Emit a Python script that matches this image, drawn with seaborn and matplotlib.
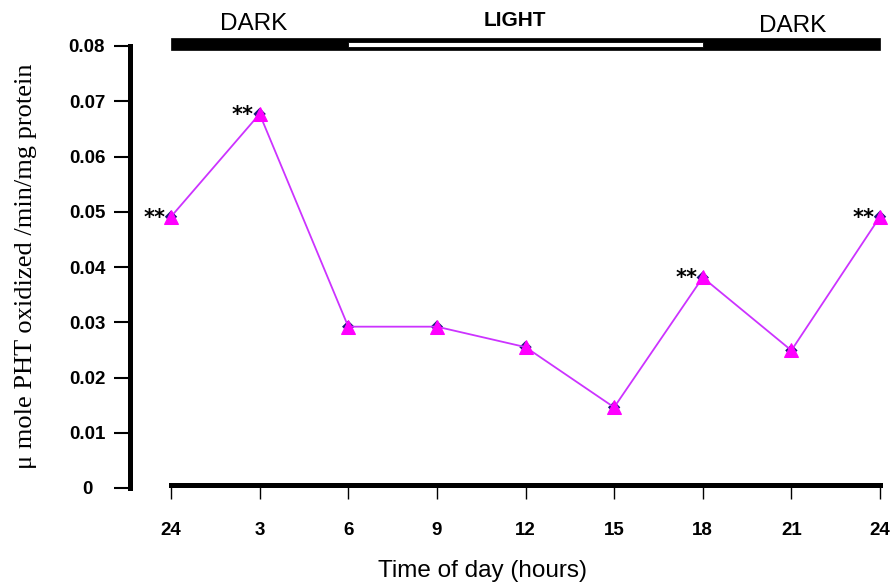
import numpy as np
import pandas as pd
import matplotlib
matplotlib.use("Agg")
import matplotlib.pyplot as plt
import seaborn as sns
from matplotlib.patches import Rectangle

# data
hours = [0, 3, 6, 9, 12, 15, 18, 21, 24]
hour_labels = ["24", "3", "6", "9", "12", "15", "18", "21", "24"]
activity = [0.0491, 0.0677, 0.0292, 0.0292, 0.0255, 0.0146, 0.0381, 0.0249, 0.0491]
significant = [True, True, False, False, False, False, True, False, True]
y_ticks = [0, 0.01, 0.02, 0.03, 0.04, 0.05, 0.06, 0.07, 0.08]
y_tick_labels = ["0", "0.01", "0.02", "0.03", "0.04", "0.05", "0.06", "0.07", "0.08"]

df = pd.DataFrame({"hour": hours, "activity": activity})

sns.set_style("white")
plt.rcParams["font.family"] = ["Liberation Sans", "DejaVu Sans"]
plt.rcParams["text.color"] = "black"
plt.rcParams["axes.labelcolor"] = "black"

fig = plt.figure(figsize=(8.9, 5.85), dpi=100)
ax = fig.add_axes([171 / 890, 97 / 585, 709 / 890, 442 / 585])

# diamonds peeking behind the triangles
sns.scatterplot(data=df, x="hour", y="activity", marker="D", s=40,
                color="#1a1a7a", edgecolor="none", ax=ax, zorder=3, clip_on=False)
sns.lineplot(data=df, x="hour", y="activity", color="#cc33ff", linewidth=1.3,
             marker="^", markersize=10, markerfacecolor="#ff00ff",
             markeredgecolor="#ff00ff", ax=ax, zorder=4, clip_on=False)

for h, v, s in zip(hours, activity, significant):
    if s:
        ax.annotate("**", (h, v), xytext=(-12, -5), textcoords="offset points",
                    fontsize=15, fontweight="bold", ha="center", va="baseline",
                    color="black", family=["DejaVu Sans"])

ax.set_xlim(0, 24)
ax.set_ylim(0, 0.08)

ax.spines["top"].set_visible(False)
ax.spines["right"].set_visible(False)
ax.spines["left"].set_position(("outward", 29.5))
ax.spines["left"].set_linewidth(3.6)
ax.spines["bottom"].set_linewidth(3.6)
ax.spines["bottom"].set_position(("axes", 0.007))
ax.spines["left"].set_color("black")
ax.spines["bottom"].set_color("black")

ax.tick_params(axis="y", direction="out", length=11.5, width=1.5, pad=19.5,
               left=True, colors="black", labelsize=13.5)
ax.tick_params(axis="x", direction="out", length=10, width=1.0, pad=17,
               bottom=True, colors="black", labelsize=13.5)

ax.set_xticks(hours)
ax.set_xticklabels(hour_labels)
ax.set_yticks(y_ticks)
ax.set_yticklabels(y_tick_labels)
for lab in ax.get_xticklabels():
    lab.set_fontweight("bold")
for lab in ax.get_yticklabels():
    lab.set_fontweight("bold")
    lab.set_horizontalalignment("center")

ax.set_xlabel("Time of day (hours)", fontsize=17.5, color="black")
ax.xaxis.set_label_coords(0.44, -0.163)
ax.set_ylabel("\u03bc mole PHT oxidized /min/mg protein", fontsize=19,
              family=["Liberation Serif", "DejaVu Serif"], color="black")
ax.yaxis.set_label_coords(-0.189, 0.502)

# light / dark bar on top
ax.add_patch(Rectangle((0, 0.07928), 24, 0.00217, transform=ax.transData,
                       facecolor="black", edgecolor="black", linewidth=0.5,
                       clip_on=False, zorder=5))
ax.add_patch(Rectangle((6, 0.07982), 12, 0.0009, transform=ax.transData,
                       facecolor="white", edgecolor="black", linewidth=0.6,
                       clip_on=False, zorder=6))
ax.text(2.81, 0.0840, "DARK", fontsize=17.5, ha="center", va="center", color="black")
ax.text(21.05, 0.08353, "DARK", fontsize=17.5, ha="center", va="center", color="black")
ax.text(11.64, 0.08462, "LIGHT", fontsize=15, fontweight="bold",
        ha="center", va="center", color="black")

fig.savefig("out.png", dpi=100)
